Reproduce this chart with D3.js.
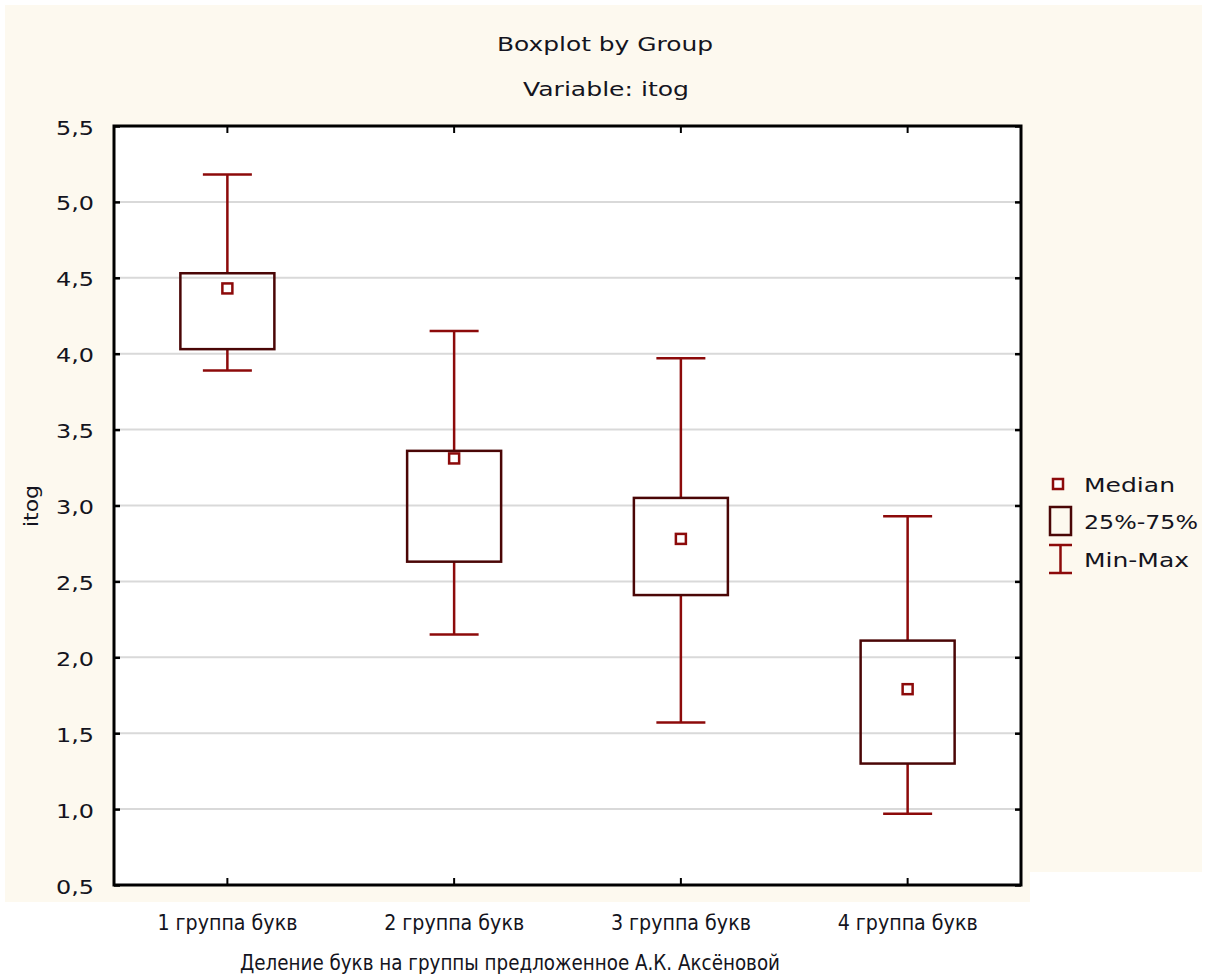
<!DOCTYPE html>
<html><head><meta charset="utf-8">
<script src="https://cdn.jsdelivr.net/npm/d3@7/dist/d3.min.js"></script>
<style>body{margin:0;background:#fff}svg{display:block}text{font-family:"DejaVu Sans",Verdana,sans-serif;fill:#141420}</style>
</head><body>
<svg id="c" width="1206" height="976"></svg>
<script>
const categories = ["1 группа букв","2 группа букв","3 группа букв","4 группа букв"];
const mins    = [3.89, 2.15, 1.57, 0.97];
const q1s     = [4.03, 2.63, 2.41, 1.30];
const medians = [4.43, 3.31, 2.78, 1.79];
const q3s     = [4.53, 3.36, 3.05, 2.11];
const maxs    = [5.18, 4.15, 3.97, 2.93];
const yTicks  = [0.5,1.0,1.5,2.0,2.5,3.0,3.5,4.0,4.5,5.0,5.5];
const legendItems = ["Median","25%-75%","Min-Max"];

const svg = d3.select("#c");
const L=114, T=126, R=1021, B=885;
const x = d3.scaleBand().domain(categories).range([L,R]).padding(0);
const y = d3.scaleLinear().domain([0.5,5.5]).range([B,T]);
const fmt = v => d3.format(".1f")(v).replace(".", ",");
const whiskerCol = "#8c0a0a", boxCol = "#4a0606";
const narrow = "'Liberation Sans',Arial,sans-serif";

// cream background
svg.append("path")
  .attr("d", `M5,5H1202V872H1030V902H5Z`)
  .attr("fill", "#fdf9ef");
svg.append("rect").attr("x",L).attr("y",T).attr("width",R-L).attr("height",B-T).attr("fill","#fff");

// gridlines
svg.append("g").selectAll("line").data(yTicks.slice(1,-1)).join("line")
  .attr("x1",L).attr("x2",R).attr("y1",d=>y(d)).attr("y2",d=>y(d))
  .attr("stroke","#d9d9d9").attr("stroke-width",2);

// axes with inward ticks
const axL = svg.append("g").attr("transform",`translate(${L},0)`)
  .call(d3.axisLeft(y).tickValues(yTicks).tickFormat(fmt).tickSize(-6).tickPadding(20));
axL.select(".domain").remove();
axL.selectAll("line").attr("stroke","#000").attr("stroke-width",2.5);
axL.selectAll("text").attr("font-size",20).attr("dy","0.4em")
  .attr("textLength",38).attr("lengthAdjust","spacingAndGlyphs");
const axR = svg.append("g").attr("transform",`translate(${R},0)`)
  .call(d3.axisRight(y).tickValues(yTicks).tickFormat("").tickSize(-6));
axR.select(".domain").remove();
axR.selectAll("line").attr("stroke","#000").attr("stroke-width",2.5);
const axB = svg.append("g").attr("transform",`translate(0,${B})`)
  .call(d3.axisBottom(x).tickSize(-7).tickPadding(0));
axB.select(".domain").remove();
axB.selectAll("line").attr("stroke","#000").attr("stroke-width",2);
axB.selectAll("text").attr("y",45).attr("dy",null).attr("font-size",22).attr("font-family",narrow)
  .attr("textLength",140).attr("lengthAdjust","spacingAndGlyphs");
const axT = svg.append("g").attr("transform",`translate(0,${T})`)
  .call(d3.axisTop(x).tickSize(-7).tickFormat(""));
axT.select(".domain").remove();
axT.selectAll("line").attr("stroke","#000").attr("stroke-width",2);

// frame
svg.append("rect").attr("x",L).attr("y",T).attr("width",R-L).attr("height",B-T)
  .attr("fill","none").attr("stroke","#000").attr("stroke-width",3);

// boxes
const data = categories.map((c,i)=>({c,min:mins[i],q1:q1s[i],med:medians[i],q3:q3s[i],max:maxs[i]}));
const g = svg.append("g");
const bw = 94, cw = 49;
data.forEach(d=>{
  const cx = x(d.c)+x.bandwidth()/2;
  g.append("line").attr("x1",cx).attr("x2",cx).attr("y1",y(d.max)).attr("y2",y(d.q3)).attr("stroke",whiskerCol).attr("stroke-width",2.5);
  g.append("line").attr("x1",cx).attr("x2",cx).attr("y1",y(d.q1)).attr("y2",y(d.min)).attr("stroke",whiskerCol).attr("stroke-width",2.5);
  g.append("line").attr("x1",cx-cw/2).attr("x2",cx+cw/2).attr("y1",y(d.max)).attr("y2",y(d.max)).attr("stroke",whiskerCol).attr("stroke-width",2.5);
  g.append("line").attr("x1",cx-cw/2).attr("x2",cx+cw/2).attr("y1",y(d.min)).attr("y2",y(d.min)).attr("stroke",whiskerCol).attr("stroke-width",2.5);
  g.append("rect").attr("x",cx-bw/2).attr("y",y(d.q3)).attr("width",bw).attr("height",y(d.q1)-y(d.q3))
    .attr("fill","none").attr("stroke",boxCol).attr("stroke-width",2.5);
  g.append("rect").attr("x",cx-5).attr("y",y(d.med)-5).attr("width",10).attr("height",10)
    .attr("fill","#fff").attr("stroke",whiskerCol).attr("stroke-width",2.5);
});

// titles
svg.append("text").attr("x",605).attr("y",51).attr("text-anchor","middle").attr("font-size",20)
  .attr("textLength",216).attr("lengthAdjust","spacingAndGlyphs").text("Boxplot by Group");
svg.append("text").attr("x",606).attr("y",96).attr("text-anchor","middle").attr("font-size",20)
  .attr("textLength",166).attr("lengthAdjust","spacingAndGlyphs").text("Variable: itog");
svg.append("text").attr("transform","translate(38,506) rotate(-90)").attr("text-anchor","middle").attr("font-size",20)
  .attr("textLength",42).attr("lengthAdjust","spacingAndGlyphs").text("itog");
svg.append("text").attr("x",510).attr("y",970).attr("text-anchor","middle").attr("font-size",22)
  .attr("font-family",narrow).attr("textLength",540).attr("lengthAdjust","spacingAndGlyphs")
  .text("Деление букв на группы предложенное А.К. Аксёновой");

// legend
const lg = svg.append("g");
lg.append("rect").attr("x",1053).attr("y",479).attr("width",10).attr("height",10).attr("fill","#fff").attr("stroke",whiskerCol).attr("stroke-width",2.5);
lg.append("rect").attr("x",1050).attr("y",507).attr("width",21).attr("height",28).attr("fill","none").attr("stroke",boxCol).attr("stroke-width",2.5);
lg.append("line").attr("x1",1049).attr("x2",1072).attr("y1",545).attr("y2",545).attr("stroke",whiskerCol).attr("stroke-width",2.5);
lg.append("line").attr("x1",1049).attr("x2",1072).attr("y1",573).attr("y2",573).attr("stroke",whiskerCol).attr("stroke-width",2.5);
lg.append("line").attr("x1",1060.5).attr("x2",1060.5).attr("y1",545).attr("y2",573).attr("stroke",whiskerCol).attr("stroke-width",2.5);
const legendLen = [91,114,105];
lg.selectAll("text.l").data(legendItems).join("text").attr("class","l")
  .attr("x",1084).attr("y",(d,i)=>[484,521,559][i]).attr("dy","0.38em").attr("font-size",20)
  .attr("textLength",(d,i)=>legendLen[i]).attr("lengthAdjust","spacingAndGlyphs").text(d=>d);
</script>
</body></html>
